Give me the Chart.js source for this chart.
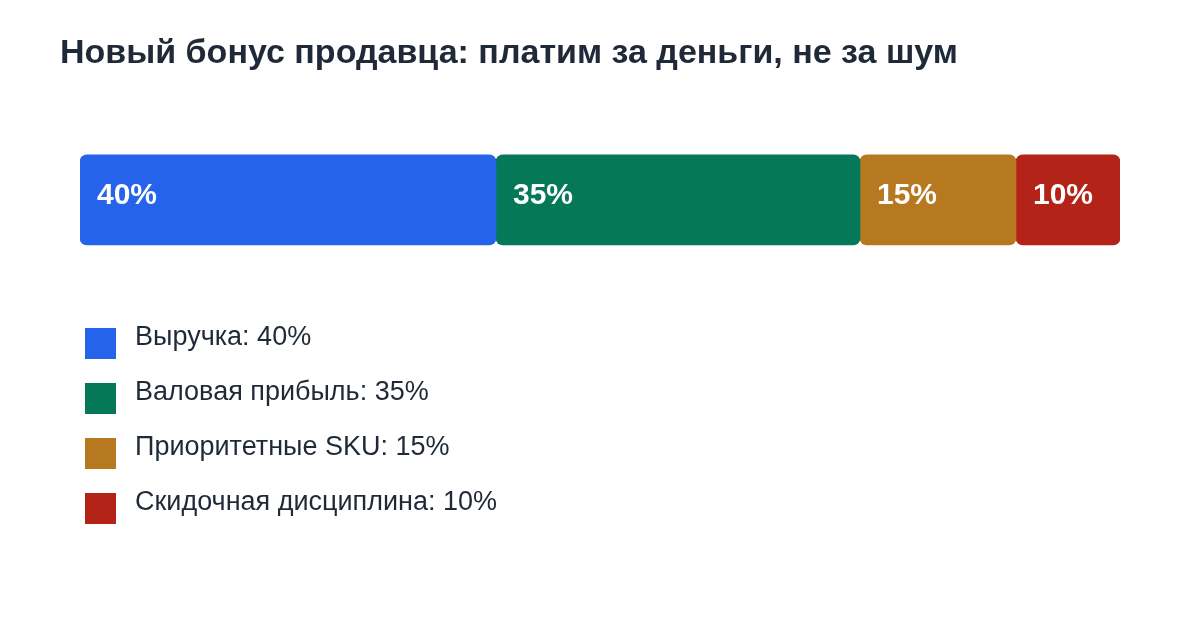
<!DOCTYPE html>
<html lang="ru">
<head>
<meta charset="utf-8">
<title>Новый бонус продавца</title>
<script src="https://cdn.jsdelivr.net/npm/chart.js@4"></script>
<style>
  html, body { margin: 0; padding: 0; background: #fff; }
  #wrap { width: 1200px; height: 620px; position: relative; }
</style>
</head>
<body>
<div id="wrap"><canvas id="grafico"></canvas></div>
<script>
// доли бонуса, в процентах
const componentes = ['Выручка', 'Валовая прибыль', 'Приоритетные SKU', 'Скидочная дисциплина'];
const pesos = [40, 35, 15, 10];
const cores = ['#2563EB', '#047857', '#B7791F', '#B42318'];
const titulo = 'Новый бонус продавца: платим за деньги, не за шум';

const FONTE = '"Liberation Sans", Arial, Helvetica, sans-serif';
const TEXTO = '#1F2937';

// плавающие отрезки [начало, конец], чтобы скругление было у каждого сегмента
let acumulado = 0;
const datasets = componentes.map((nome, i) => {
  const inicio = acumulado;
  acumulado += pesos[i];
  return {
    label: nome,
    data: [[inicio, acumulado]],
    valor: pesos[i],
    backgroundColor: cores[i],
    borderWidth: 0,
    borderRadius: 7,
    borderSkipped: false,
    barThickness: 90,
    grouped: false
  };
});

// подписи процентов внутри сегментов
const rotulosBarra = {
  id: 'rotulosBarra',
  afterDatasetsDraw(chart) {
    const ctx = chart.ctx;
    ctx.save();
    ctx.font = 'bold 30px ' + FONTE;
    ctx.fillStyle = '#FFFFFF';
    ctx.textBaseline = 'middle';
    ctx.textAlign = 'left';
    chart.data.datasets.forEach((ds, i) => {
      const bar = chart.getDatasetMeta(i).data[0];
      const esquerda = Math.min(bar.x, bar.base);
      ctx.fillText(ds.valor + '%', esquerda + 17, bar.y - 4);
    });
    ctx.restore();
  }
};

// легенда столбиком под полосой
const legendaVertical = {
  id: 'legendaVertical',
  afterDraw(chart) {
    const ctx = chart.ctx;
    const x0 = chart.chartArea.left + 5;
    const y0 = chart.chartArea.bottom + 58;
    ctx.save();
    ctx.font = '27px ' + FONTE;
    ctx.textBaseline = 'alphabetic';
    ctx.textAlign = 'left';
    chart.data.datasets.forEach((ds, i) => {
      const y = y0 + i * 55;
      ctx.fillStyle = ds.backgroundColor;
      ctx.fillRect(x0, y, 31, 31);
      ctx.fillStyle = TEXTO;
      ctx.fillText(ds.label + ': ' + ds.valor + '%', x0 + 50, y + 17);
    });
    ctx.restore();
  }
};

new Chart(document.getElementById('grafico'), {
  type: 'bar',
  data: { labels: [''], datasets: datasets },
  options: {
    indexAxis: 'y',
    responsive: true,
    maintainAspectRatio: false,
    animation: false,
    layout: { padding: { left: 60, right: 80, top: 33, bottom: 350 } },
    scales: {
      x: { display: false, min: 0, max: 100 },
      y: {
        display: true,
        grid: { display: false },
        border: { display: false },
        ticks: { display: false },
        afterFit(scale) { scale.width = 20; }
      }
    },
    plugins: {
      legend: { display: false },
      tooltip: {
        callbacks: { label: c => c.dataset.label + ': ' + c.dataset.valor + '%' }
      },
      title: {
        display: true,
        text: titulo,
        align: 'start',
        color: TEXTO,
        font: { family: FONTE, size: 34, weight: 'bold', lineHeight: 1.2 },
        padding: { top: 0, bottom: 56 }
      }
    }
  },
  plugins: [rotulosBarra, legendaVertical]
});
</script>
</body>
</html>
